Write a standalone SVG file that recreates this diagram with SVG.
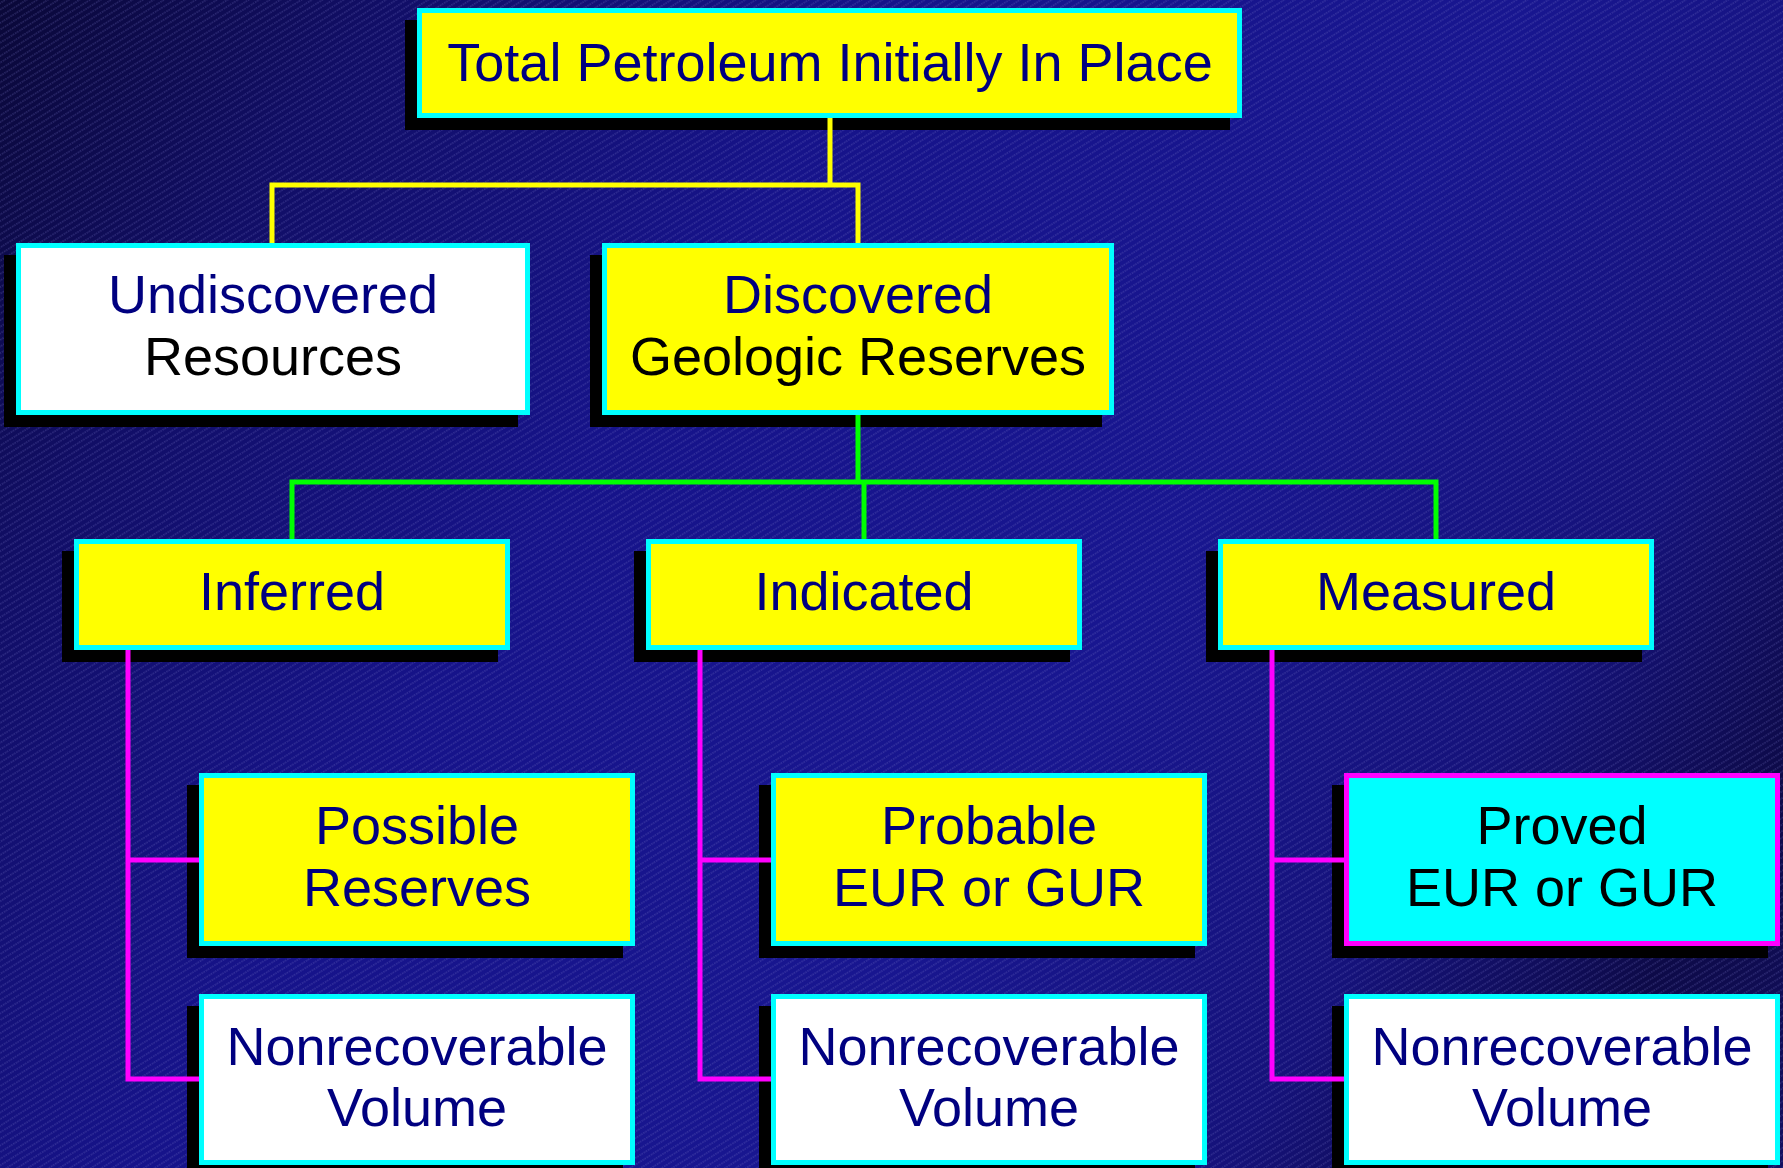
<svg xmlns="http://www.w3.org/2000/svg" width="1783" height="1168" viewBox="0 0 1783 1168">
  <defs>
    <linearGradient id="bg" x1="0" y1="0" x2="1783" y2="1168" gradientUnits="userSpaceOnUse">
      <stop offset="0" stop-color="#0a0838"/>
      <stop offset="0.15" stop-color="#110e66"/>
      <stop offset="0.35" stop-color="#16138a"/>
      <stop offset="0.6" stop-color="#181690"/>
      <stop offset="0.78" stop-color="#15127a"/>
      <stop offset="0.9" stop-color="#0d0a48"/>
      <stop offset="1" stop-color="#120f60"/>
    </linearGradient>
    <pattern id="hatch" patternUnits="userSpaceOnUse" width="40" height="5.6" patternTransform="rotate(-32)">
      <line x1="0" y1="2.8" x2="40" y2="2.8" stroke="#7a78c8" stroke-width="0.9" stroke-opacity="0.55" stroke-dasharray="1.5 1"/>
    </pattern>
    <style>
      .shadow { fill: #000000; }
      .box { stroke: #00ffff; stroke-width: 5; }
      .yellow { fill: #ffff00; }
      .white { fill: #ffffff; }
      .proved { fill: #00ffff; stroke: #ff00ff; stroke-width: 5; }
      .t { font-family: "Liberation Sans", Arial, sans-serif; font-size: 54px; text-anchor: middle; }
      .navy { fill: #000080; }
      .black { fill: #000000; }
      .c-y { stroke: #ffff00; stroke-width: 5; fill: none; }
      .c-g { stroke: #00ff00; stroke-width: 5; fill: none; }
      .c-m { stroke: #ff00ff; stroke-width: 5; fill: none; }
    </style>
  </defs>

  <rect x="0" y="0" width="1783" height="1168" fill="url(#bg)"/>
  <rect x="0" y="0" width="1783" height="1168" fill="url(#hatch)"/>

  <g id="shadows">
    <rect class="shadow" x="405" y="20" width="825" height="110"/>
    <rect class="shadow" x="4" y="255" width="514" height="172"/>
    <rect class="shadow" x="590" y="255" width="512" height="172"/>
    <rect class="shadow" x="62" y="551" width="436" height="111"/>
    <rect class="shadow" x="634" y="551" width="436" height="111"/>
    <rect class="shadow" x="1206" y="551" width="436" height="111"/>
    <rect class="shadow" x="187" y="785" width="436" height="173"/>
    <rect class="shadow" x="759" y="785" width="436" height="173"/>
    <rect class="shadow" x="1332" y="785" width="436" height="173"/>
    <rect class="shadow" x="187" y="1006" width="436" height="162"/>
    <rect class="shadow" x="759" y="1006" width="436" height="162"/>
    <rect class="shadow" x="1332" y="1006" width="436" height="162"/>
  </g>

  <g id="connectors">
    <path class="c-y" d="M830 118 V185 M272 243 V185 H858 V243"/>
    <path class="c-g" d="M858 415 V482 M292 539 V482 H1436 V539 M864 482 V539"/>
    <path class="c-m" d="M128 650 V1079 H199 M128 860 H199"/>
    <path class="c-m" d="M700 650 V1079 H771 M700 860 H771"/>
    <path class="c-m" d="M1272 650 V1079 H1344 M1272 860 H1344"/>
  </g>

  <g id="total">
    <rect class="box yellow" x="419.5" y="10.5" width="820" height="105"/>
    <text class="t navy" x="830" y="81">Total Petroleum Initially In Place</text>
  </g>
  <g id="undiscovered">
    <rect class="box white" x="18.5" y="245.5" width="509" height="167"/>
    <text class="t navy" x="273" y="313">Undiscovered</text>
    <text class="t black" x="273" y="375">Resources</text>
  </g>
  <g id="discovered">
    <rect class="box yellow" x="604.5" y="245.5" width="507" height="167"/>
    <text class="t navy" x="858" y="313">Discovered</text>
    <text class="t black" x="858" y="375">Geologic Reserves</text>
  </g>
  <g id="inferred">
    <rect class="box yellow" x="76.5" y="541.5" width="431" height="106"/>
    <text class="t navy" x="292" y="610">Inferred</text>
  </g>
  <g id="indicated">
    <rect class="box yellow" x="648.5" y="541.5" width="431" height="106"/>
    <text class="t navy" x="864" y="610">Indicated</text>
  </g>
  <g id="measured">
    <rect class="box yellow" x="1220.5" y="541.5" width="431" height="106"/>
    <text class="t navy" x="1436" y="610">Measured</text>
  </g>
  <g id="possible">
    <rect class="box yellow" x="201.5" y="775.5" width="431" height="168"/>
    <text class="t navy" x="417" y="844">Possible</text>
    <text class="t navy" x="417" y="906">Reserves</text>
  </g>
  <g id="probable">
    <rect class="box yellow" x="773.5" y="775.5" width="431" height="168"/>
    <text class="t navy" x="989" y="844">Probable</text>
    <text class="t navy" x="989" y="906">EUR or GUR</text>
  </g>
  <g id="proved">
    <rect class="proved" x="1346.5" y="775.5" width="431" height="168"/>
    <text class="t black" x="1562" y="844">Proved</text>
    <text class="t black" x="1562" y="906">EUR or GUR</text>
  </g>
  <g id="nonrec-inferred">
    <rect class="box white" x="201.5" y="996.5" width="431" height="166"/>
    <text class="t navy" x="417" y="1065">Nonrecoverable</text>
    <text class="t navy" x="417" y="1126">Volume</text>
  </g>
  <g id="nonrec-indicated">
    <rect class="box white" x="773.5" y="996.5" width="431" height="166"/>
    <text class="t navy" x="989" y="1065">Nonrecoverable</text>
    <text class="t navy" x="989" y="1126">Volume</text>
  </g>
  <g id="nonrec-measured">
    <rect class="box white" x="1346.5" y="996.5" width="431" height="166"/>
    <text class="t navy" x="1562" y="1065">Nonrecoverable</text>
    <text class="t navy" x="1562" y="1126">Volume</text>
  </g>
</svg>
